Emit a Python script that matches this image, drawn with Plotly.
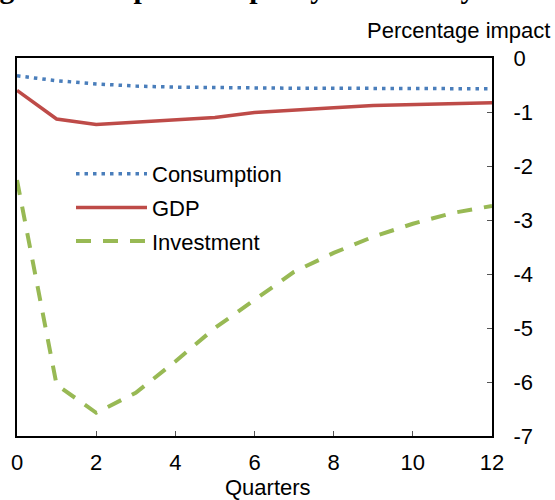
import plotly.graph_objects as go

quarters = list(range(13))
consumption = [-0.33, -0.42, -0.48, -0.52, -0.54, -0.55, -0.55, -0.56, -0.56, -0.56, -0.57, -0.57, -0.57]
gdp = [-0.60, -1.13, -1.23, -1.19, -1.14, -1.10, -1.01, -0.96, -0.92, -0.88, -0.86, -0.84, -0.83]
investment = [-2.26, -6.05, -6.57, -6.20, -5.62, -5.00, -4.48, -3.96, -3.61, -3.31, -3.07, -2.87, -2.74]
x_ticks = [0, 2, 4, 6, 8, 10, 12]
y_ticks = [0, -1, -2, -3, -4, -5, -6, -7]
y_tick_labels = ["0", "-1", "-2", "-3", "-4", "-5", "-6", "-7"]

FONT = "Liberation Sans, Arial, sans-serif"
FS = 22

fig = go.Figure()
fig.add_trace(go.Scatter(x=quarters, y=consumption, mode="lines", name="Consumption",
                         legendgroup="c",
                         line=dict(color="#4A7EBB", width=3.5, dash="3.5px,5px")))
fig.add_trace(go.Scatter(x=quarters, y=gdp, mode="lines", name="GDP", legendgroup="g",
                         line=dict(color="#BE4B48", width=3.5)))
fig.add_trace(go.Scatter(x=quarters, y=investment, mode="lines", name="Investment",
                         legendgroup="i",
                         line=dict(color="#98B954", width=4, dash="15px,12px")))

fig.update_layout(
    width=555, height=500,
    margin=dict(l=17, r=63, t=58, b=64),
    plot_bgcolor="white", paper_bgcolor="white",
    font=dict(family=FONT, size=FS, color="black"),
    showlegend=True,
    legend=dict(x=(71 - 17) / 475, y=1 - (153 - 58) / 378, xanchor="left", yanchor="top",
                bgcolor="rgba(0,0,0,0)", itemwidth=71, tracegroupgap=2,
                traceorder="grouped",
                font=dict(family=FONT, size=FS, color="black")),
    xaxis=dict(range=[0, 12], tickvals=x_ticks, ticks="inside", ticklen=5, tickcolor="#555",
               showline=True, linecolor="black", linewidth=2, mirror=True,
               showgrid=False, zeroline=False, tickfont=dict(size=FS), ticklabelstandoff=6),
    yaxis=dict(range=[-7, 0], tickvals=y_ticks, ticktext=y_tick_labels, side="right",
               ticks="inside", ticklen=5,
               tickcolor="#555", showline=True, linecolor="black", linewidth=2, mirror=True,
               showgrid=False, zeroline=False, tickfont=dict(size=FS), ticklabelstandoff=15),
)

fig.add_annotation(text="Percentage impact", xref="paper", yref="paper",
                   x=(552 - 17) / 475, y=1 + (58 - 30) / 378, xanchor="right", yanchor="middle",
                   showarrow=False, font=dict(family=FONT, size=FS))
fig.add_annotation(text="Quarters", xref="paper", yref="paper",
                   x=(268 - 17) / 475, y=-(487 - 436) / 378, xanchor="center", yanchor="middle",
                   showarrow=False, font=dict(family=FONT, size=FS))
fig.add_annotation(text="<b>Modelling of the impact of a policy rate rise by sector</b>",
                   xref="paper", yref="paper",
                   x=(560 - 17) / 475, y=1 + (58 - 6) / 378, xanchor="right", yanchor="bottom",
                   showarrow=False, font=dict(family="Liberation Serif, serif", size=29.6))

fig.write_html("out.html", config={"displayModeBar": False},
               post_script="document.body.style.margin='0';")
